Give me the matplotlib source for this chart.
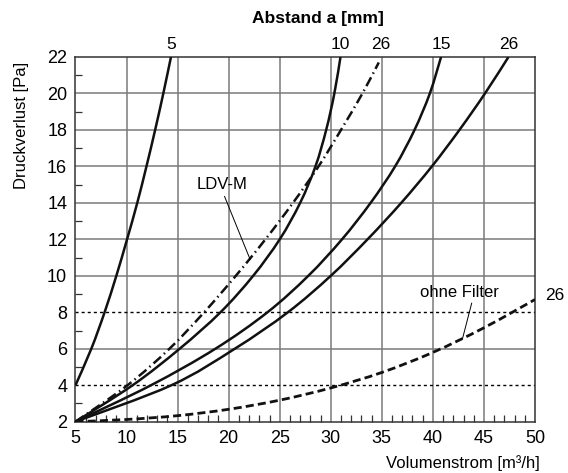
import matplotlib
matplotlib.use("Agg")
import matplotlib.pyplot as plt
from matplotlib.path import Path
from matplotlib.patches import PathPatch
from matplotlib.ticker import MultipleLocator

plt.rcParams['font.family'] = ['Liberation Sans', 'DejaVu Sans']

# Druckverlust-Stufen [Pa]
p_std = [2, 4, 6, 8, 10, 12, 14, 16, 18, 20, 22]

# Volumenstrom [m3/h] je Kurve (Abstand a)
q_a5 = [5.0, 6.55, 7.85, 9.0, 10.05, 11.05, 11.95, 12.8, 13.6, 14.35]
p_a5 = [4, 6, 8, 10, 12, 14, 16, 18, 20, 22]
q_a10 = [5.0, 10.6, 15.2, 19.2, 22.4, 25.0, 27.0, 28.5, 29.55, 30.35, 30.95]
q_a15 = [5.0, 12.4, 18.7, 23.8, 27.8, 31.1, 33.9, 36.3, 38.2, 39.7, 40.8]
q_a26 = [5.0, 14.4, 20.6, 25.8, 30.0, 33.6, 36.9, 39.9, 42.6, 45.1, 47.4]

# LDV-M, a = 26
q_ldv = [5.0, 10.1, 14.2, 17.6, 20.7, 23.6, 26.3, 28.8, 31.0, 33.1, 34.7]
p_ldv = [2, 4, 6, 8, 10, 12, 14, 16, 18, 20, 21.7]

# ohne Filter, a = 26
q_of = [5, 10, 15, 20, 25, 30, 35, 40, 45, 50]
p_of = [2.0, 2.12, 2.33, 2.68, 3.18, 3.85, 4.7, 5.8, 7.15, 8.7]

top_labels = ["5", "10", "26", "15", "26"]


def smooth_path(xs, ys):
    pts = list(zip(xs, ys))
    verts = [pts[0]]
    codes = [Path.MOVETO]
    n = len(pts)
    for i in range(n - 1):
        p0 = pts[max(i - 1, 0)]
        p1 = pts[i]
        p2 = pts[i + 1]
        p3 = pts[min(i + 2, n - 1)]
        c1 = (p1[0] + (p2[0] - p0[0]) / 6, p1[1] + (p2[1] - p0[1]) / 6)
        c2 = (p2[0] - (p3[0] - p1[0]) / 6, p2[1] - (p3[1] - p1[1]) / 6)
        verts += [c1, c2, p2]
        codes += [Path.CURVE4] * 3
    return Path(verts, codes)


def draw(ax, xs, ys, **kw):
    patch = PathPatch(smooth_path(xs, ys), facecolor='none', edgecolor='#111111',
                      zorder=3, capstyle='butt', **kw)
    ax.add_patch(patch)


fig = plt.figure(figsize=(5.68, 4.73), dpi=100)
ax = fig.add_axes([0.1329, 0.1085, 0.809, 0.771])

ax.set_xlim(5, 50)
ax.set_ylim(2, 22)
ax.xaxis.set_major_locator(MultipleLocator(5))
ax.xaxis.set_minor_locator(MultipleLocator(1))
ax.yaxis.set_major_locator(MultipleLocator(2))
ax.yaxis.set_minor_locator(MultipleLocator(1))
ax.tick_params(which='both', direction='in', labelsize=13, color='#333333')
ax.tick_params(which='major', length=0, pad=6)
ax.tick_params(which='minor', length=5, width=0.9)

# Raster
for xv in range(10, 50, 5):
    ax.axvline(xv, color='#7a7a7a', lw=1.1, zorder=1)
for yv in [6, 10, 12, 14, 16, 18, 20]:
    ax.axhline(yv, color='#7a7a7a', lw=1.1, zorder=1)
for yv in [4, 8]:
    ax.axhline(yv, color='black', lw=1.0, ls=(0, (2.2, 2.2)), zorder=1)

for sp in ax.spines.values():
    sp.set_color('#333333')
    sp.set_linewidth(1.1)

lw = 1.8
draw(ax, q_a5, p_a5, lw=lw)
draw(ax, q_a10, p_std, lw=lw)
draw(ax, q_a15, p_std, lw=lw)
draw(ax, q_a26, p_std, lw=lw)
draw(ax, q_ldv, p_ldv, lw=lw, ls=(0, (4, 1.6, 0.6, 1.6)))
draw(ax, q_of, p_of, lw=2.0, ls=(0, (2.9, 1.5)))

# Beschriftung oben
for lab, xq in zip(top_labels, [q_a5[-1], q_a10[-1], q_ldv[-1] + 0.2, q_a15[-1], q_a26[-1]]):
    ax.text(xq, 22.3, lab, ha='center', va='bottom', fontsize=12.5, clip_on=False)

ax.text(51.0, 8.9, "26", ha='left', va='center', fontsize=12.5, clip_on=False)

ax.text(19.4, 15.0, "LDV-M", ha='center', va='center', fontsize=12)
ax.plot([19.6, 22.1], [14.35, 10.9], color='black', lw=0.7, zorder=4)

ax.text(42.6, 9.1, "ohne Filter", ha='center', va='center', fontsize=12)
ax.plot([43.8, 42.9], [8.5, 6.55], color='black', lw=0.7, zorder=4)

fig.text(0.56, 0.96, "Abstand a [mm]", ha='center', va='center', fontsize=12.5, fontweight='bold')
fig.text(0.038, 0.734, "Druckverlust [Pa]", ha='center', va='center', rotation=90, fontsize=12)
fig.text(0.95, 0.021, "Volumenstrom [m³/h]", ha='right', va='center', fontsize=12)

fig.savefig("out.png", dpi=100)
